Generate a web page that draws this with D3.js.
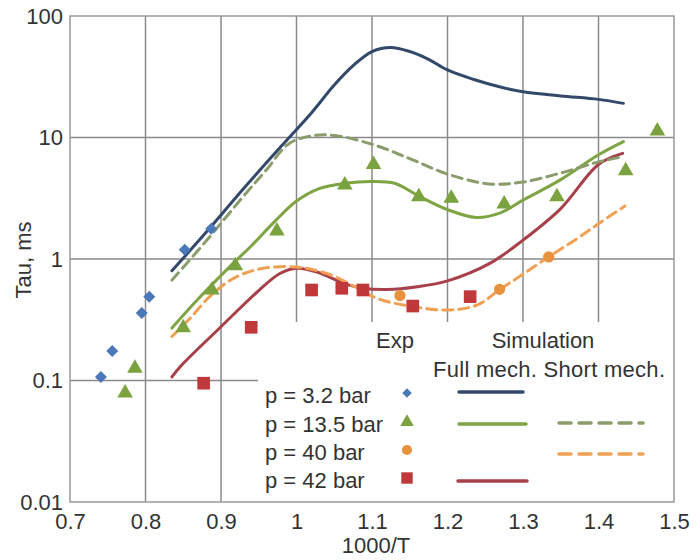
<!DOCTYPE html>
<html><head><meta charset="utf-8">
<script src="https://cdn.jsdelivr.net/npm/d3@7"></script>
<style>
body{margin:0;background:#fff;}
text{font-family:"Liberation Sans",Arial,sans-serif;fill:#333;}
</style></head>
<body><svg id="c" width="700" height="560"></svg>
<script>
// ---- data ----
const xTicks = [0.7,0.8,0.9,1.0,1.1,1.2,1.3,1.4,1.5];
const xTickLabels = ["0.7","0.8","0.9","1","1.1","1.2","1.3","1.4","1.5"];
const yTicks = [100,10,1,0.1,0.01];
const yTickLabels = ["100","10","1","0.1","0.01"];

// experimental points [1000/T, tau]
const exp32 = [[0.741,0.107],[0.756,0.175],[0.795,0.36],[0.805,0.49],[0.852,1.19],[0.887,1.77]];
const exp135 = [[0.773,0.079],[0.786,0.126],[0.850,0.272],[0.888,0.556],[0.919,0.88],[0.974,1.70],
  [1.064,4.06],[1.102,6.0],[1.162,3.26],[1.205,3.16],[1.275,2.84],[1.345,3.26],[1.436,5.33],[1.478,11.3]];
const exp40 = [[1.137,0.50],[1.269,0.563],[1.334,1.04]];
const exp42 = [[0.877,0.095],[0.94,0.274],[1.020,0.556],[1.06,0.574],[1.088,0.556],[1.154,0.41],[1.230,0.49]];

// simulations
const full32 = [[0.835,0.80],[0.88,1.65],[0.93,3.8],[0.98,8.5],[1.02,16],[1.05,27],[1.075,39],[1.10,51],
  [1.125,55],[1.15,51],[1.175,44],[1.20,36],[1.235,30],[1.27,26],[1.30,23.8],[1.35,22],[1.40,20.6],[1.433,19.1]];
const short135 = [[0.835,0.67],[0.88,1.4],[0.93,3.3],[0.96,5.4],[0.99,8.9],[1.02,10.3],[1.05,10.4],[1.10,8.8],
  [1.15,6.7],[1.20,5.0],[1.256,4.15],[1.30,4.3],[1.35,5.1],[1.40,6.3],[1.433,6.95]];
const full135 = [[0.835,0.27],[0.87,0.47],[0.916,0.92],[0.94,1.28],[0.97,2.0],[1.00,3.0],[1.03,3.8],[1.064,4.2],
  [1.10,4.35],[1.13,4.2],[1.16,3.35],[1.20,2.55],[1.238,2.2],[1.27,2.4],[1.30,3.05],[1.35,4.5],[1.40,7.2],[1.433,9.25]];
const full42 = [[0.835,0.107],[0.846,0.13],[0.9,0.277],[0.95,0.55],[0.978,0.76],[1.00,0.84],[1.03,0.77],[1.06,0.64],
  [1.088,0.575],[1.12,0.56],[1.16,0.59],[1.20,0.66],[1.256,0.92],[1.30,1.43],[1.35,2.6],[1.40,6.0],[1.432,7.4]];
const short40 = [[0.835,0.23],[0.86,0.33],[0.885,0.49],[0.916,0.69],[0.952,0.83],[1.00,0.86],[1.04,0.76],[1.08,0.58],
  [1.106,0.475],[1.15,0.41],[1.20,0.38],[1.24,0.42],[1.269,0.56],[1.30,0.75],[1.334,1.04],[1.37,1.45],[1.401,1.97],[1.435,2.73]];

const legendRows = ["p = 3.2 bar","p = 13.5 bar","p = 40 bar","p = 42 bar"];

// ---- chart ----
const svg = d3.select("#c");
const L=70,R=674,T=16,B=502;
const x = d3.scaleLinear().domain([0.7,1.5]).range([L,R]);
const y = d3.scaleLog().domain([0.01,100]).range([B,T]);
const gridC="#8a8a8a";
const FS=22;

const lgX=258, lgY=322;

const g = svg.append("g");
xTicks.slice(1,-1).forEach(v=>{
  const px=x(v);
  const bottom = px>lgX ? lgY : B;
  g.append("line").attr("x1",px).attr("x2",px).attr("y1",T).attr("y2",bottom)
   .attr("stroke",gridC).attr("stroke-width",1.5);
});
yTicks.slice(1,-1).forEach(v=>{
  const py=y(v);
  const right = py>lgY ? lgX : R;
  g.append("line").attr("x1",L).attr("x2",right).attr("y1",py).attr("y2",py)
   .attr("stroke",gridC).attr("stroke-width",1.5);
});
svg.append("rect").attr("x",L).attr("y",T).attr("width",R-L).attr("height",B-T)
  .attr("fill","none").attr("stroke","#9a9a9a").attr("stroke-width",1.5);

const ax = svg.append("g").attr("transform",`translate(0,${B})`)
  .call(d3.axisBottom(x).tickValues(xTicks).tickSize(0).tickPadding(11)
    .tickFormat((d,i)=>xTickLabels[i]));
ax.select(".domain").remove();
ax.selectAll("text").attr("font-size",FS).attr("font-family","Liberation Sans, Arial").attr("fill","#333");

const ay = svg.append("g").attr("transform",`translate(${L-7},0)`)
  .call(d3.axisLeft(y).tickValues(yTicks).tickSize(0).tickPadding(0)
    .tickFormat((d,i)=>yTickLabels[i]));
ay.select(".domain").remove();
ay.selectAll("text").attr("font-size",FS).attr("font-family","Liberation Sans, Arial").attr("fill","#333");

svg.append("text").attr("x",(L+R)/2+4).attr("y",553).attr("text-anchor","middle")
  .attr("font-size",FS).text("1000/T");
svg.append("text").attr("transform","translate(31,260) rotate(-90)").attr("text-anchor","middle")
  .attr("font-size",FS).text("Tau, ms");

const cBlue="#33496a", cBlueM="#4a78b8", cGreen="#7ea443", cGreenM="#7aa23e", cGreenD="#8a9c6c",
      cOrange="#f0a054", cOrangeM="#e8923e", cRed="#a8404a", cRedM="#c0393a";

const line = d3.line().x(d=>x(d[0])).y(d=>y(d[1])).curve(d3.curveCatmullRom.alpha(0.5));
function drawLine(data,color,dash){
  svg.append("path").datum(data).attr("d",line).attr("fill","none")
    .attr("stroke",color).attr("stroke-width",3).attr("stroke-linecap","round")
    .attr("stroke-dasharray",dash||null);
}
drawLine(full42,cRed);
drawLine(short40,cOrange,"10,6");
drawLine(full135,cGreen);
drawLine(short135,cGreenD,"10,6");
drawLine(full32,cBlue);

const sym = {
  diamond: d3.symbol().type(d3.symbolSquare),
  triangle: d3.symbol().type(d3.symbolTriangle),
  circle: d3.symbol().type(d3.symbolCircle),
  square: d3.symbol().type(d3.symbolSquare)
};
function drawPts(data,type,size,color){
  svg.append("g").selectAll("path").data(data).join("path")
    .attr("d",sym[type].size(size)())
    .attr("transform",d=>`translate(${x(d[0])},${y(d[1])})${type==="diamond"?" rotate(45)":""}`)
    .attr("fill",color);
}
drawPts(exp42,"square",160,cRedM);
drawPts(exp40,"circle",100,cOrangeM);
drawPts(exp135,"triangle",105,cGreenM);
drawPts(exp32,"diamond",72,cBlueM);

// legend
const lg = svg.append("g");
lg.append("rect").attr("x",lgX).attr("y",lgY).attr("width",R-lgX-1).attr("height",B-lgY-1).attr("fill","#fff");
lg.append("text").attr("x",395).attr("y",348).attr("text-anchor","middle").attr("font-size",FS).text("Exp");
lg.append("text").attr("x",543).attr("y",348).attr("text-anchor","middle").attr("font-size",FS).text("Simulation");
lg.append("text").attr("x",433).attr("y",377).attr("font-size",FS).attr("textLength",232).text("Full mech. Short mech.");
const rowY=[403,432,460,488];
legendRows.forEach((t,i)=>{
  lg.append("text").attr("x",265).attr("y",rowY[i]).attr("font-size",FS).text(t);
});
const lm=[["diamond",45,cBlueM],["triangle",80,cGreenM],["circle",80,cOrangeM],["square",130,cRedM]];
lm.forEach((m,i)=>{
  lg.append("path").attr("d",sym[m[0]].size(m[1])())
    .attr("transform",`translate(407,${rowY[i]-10})${m[0]==="diamond"?" rotate(45)":""}`).attr("fill",m[2]);
});
function lgLine(x1,x2,yy,color,dash){
  lg.append("line").attr("x1",x1).attr("x2",x2).attr("y1",yy).attr("y2",yy)
    .attr("stroke",color).attr("stroke-width",3.5).attr("stroke-linecap","round").attr("stroke-dasharray",dash||null);
}
lgLine(459,523,392,cBlue);
lgLine(459,526,424,cGreen);
lgLine(559,643,423,cGreenD,"12,8");
lgLine(559,643,454,cOrange,"12,8");
lgLine(458,527,481,cRed);
</script></body></html>
